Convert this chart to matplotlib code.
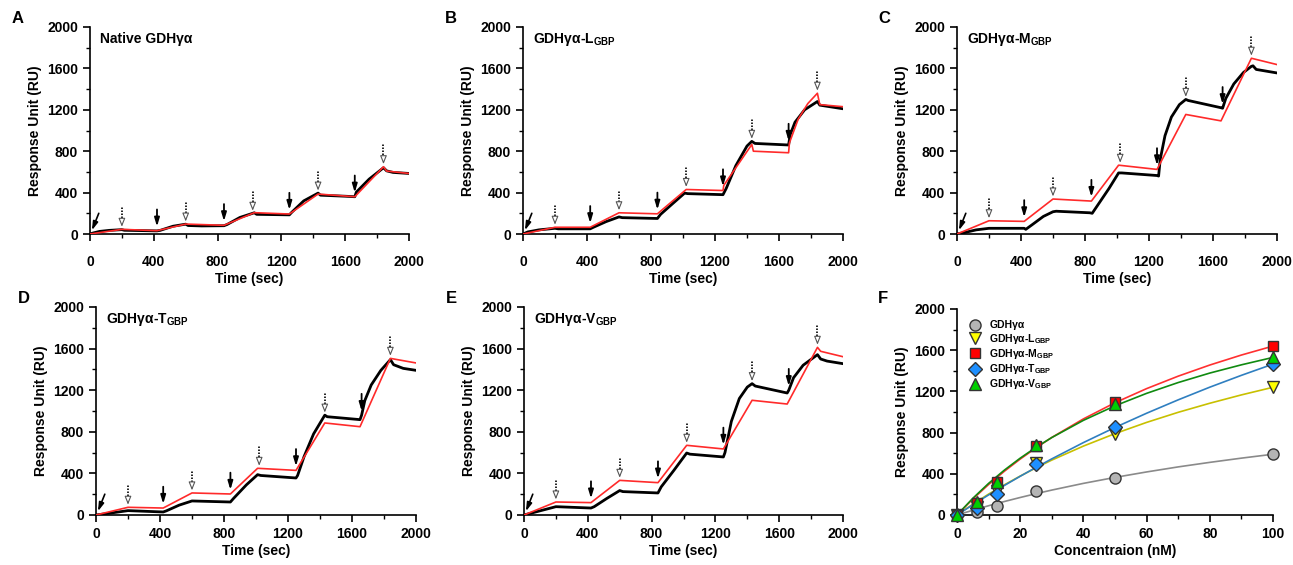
import matplotlib

matplotlib.use("Agg")
import matplotlib.pyplot as plt
import numpy as np
from matplotlib.ticker import MultipleLocator

plt.rcParams["font.family"] = ["Liberation Sans", "DejaVu Sans"]
plt.rcParams["font.weight"] = "bold"
plt.rcParams["mathtext.fontset"] = "custom"
plt.rcParams["mathtext.rm"] = "Liberation Sans"
plt.rcParams["mathtext.bf"] = "Liberation Sans:bold"

# --- sensorgrams: black = measured, red = fit ---
a_black_t = [0, 20, 60, 120, 200, 215, 420, 440, 520, 600, 615, 700, 840, 860, 940, 1030, 1045,
             1250, 1265, 1340, 1430, 1445, 1600, 1660, 1670, 1750, 1840, 1860, 1900, 2000]
a_black_y = [0, 10, 25, 35, 42, 36, 30, 35, 75, 95, 82, 78, 80, 92, 160, 205, 190,
             185, 210, 320, 395, 375, 365, 360, 405, 530, 640, 610, 595, 585]
a_red_t = [0, 200, 420, 600, 840, 1030, 1250, 1430, 1660, 1840, 1860, 2000]
a_red_y = [0, 45, 32, 96, 84, 206, 193, 386, 360, 650, 608, 585]

b_black_t = [0, 30, 100, 200, 220, 420, 440, 520, 600, 620, 840, 860, 940, 1010, 1030, 1250, 1270,
             1330, 1400, 1430, 1450, 1660, 1670, 1700, 1760, 1840, 1855, 2000]
b_black_y = [0, 20, 40, 55, 50, 50, 65, 120, 165, 158, 150, 190, 300, 395, 390, 380, 440,
             660, 850, 895, 875, 860, 960, 1080, 1200, 1280, 1245, 1210]
b_red_t = [0, 200, 420, 600, 840, 1020, 1250, 1255, 1430, 1440, 1660, 1665, 1720, 1780, 1840, 1855, 2000]
b_red_y = [0, 65, 65, 205, 195, 430, 420, 470, 865, 800, 785, 880, 1110, 1260, 1360, 1250, 1230]

c_black_t = [0, 50, 120, 200, 420, 430, 470, 540, 600, 620, 830, 845, 880, 950, 1010, 1030, 1250,
             1260, 1270, 1300, 1340, 1390, 1430, 1445, 1650, 1660, 1680, 1730, 1790, 1840, 1850,
             1870, 2000]
c_black_y = [0, 15, 40, 55, 55, 45, 90, 170, 215, 220, 205, 200, 280, 440, 590, 590, 565,
             560, 720, 950, 1130, 1250, 1300, 1290, 1220, 1215, 1310, 1450, 1560, 1620, 1625,
             1590, 1556]
c_red_t = [0, 200, 420, 600, 840, 1010, 1250, 1430, 1650, 1840, 2000]
c_red_y = [0, 128, 122, 338, 318, 665, 624, 1155, 1093, 1698, 1637]

d_black_t = [0, 50, 200, 420, 440, 520, 600, 840, 860, 940, 1010, 1030, 1250, 1260, 1300, 1360,
             1430, 1445, 1650, 1660, 1680, 1720, 1780, 1840, 1860, 1920, 2000]
d_black_y = [0, 10, 42, 29, 40, 95, 135, 125, 160, 290, 388, 380, 356, 380, 560, 780,
             960, 945, 917, 960, 1100, 1250, 1390, 1494, 1445, 1410, 1391]
d_red_t = [0, 200, 420, 600, 840, 1010, 1250, 1430, 1650, 1840, 2000]
d_red_y = [0, 74, 67, 212, 202, 449, 429, 885, 849, 1506, 1462]

e_black_t = [0, 50, 200, 420, 440, 520, 600, 620, 840, 860, 940, 1020, 1040, 1250, 1260, 1300,
             1350, 1400, 1430, 1450, 1650, 1660, 1690, 1750, 1840, 1860, 1900, 2000]
e_black_y = [0, 20, 80, 67, 80, 160, 235, 225, 212, 270, 430, 596, 585, 558, 600, 900,
             1120, 1230, 1263, 1240, 1173, 1200, 1320, 1440, 1542, 1500, 1480, 1455]
e_red_t = [0, 200, 420, 600, 840, 1020, 1250, 1430, 1650, 1840, 1860, 2000]
e_red_y = [0, 125, 119, 333, 311, 670, 635, 1103, 1067, 1612, 1574, 1522]

inject_times = [420, 840, 1250, 1660]
dissoc_times = [200, 600, 1020, 1430, 1840]

# --- binding isotherms (panel F) ---
conc = [0, 6.25, 12.5, 25, 50, 100]
ru_native = [0, 29, 91, 235, 362, 593]
ru_l = [0, 80, 235, 505, 782, 1238]
ru_m = [0, 117, 319, 671, 1101, 1638]
ru_t = [0, 72, 205, 492, 857, 1466]
ru_v = [0, 130, 319, 681, 1075, 1531]

fit_conc = [0, 5, 10, 15, 20, 25, 30, 40, 50, 60, 70, 80, 90, 100]
fit_native = [0, 46, 90, 131, 170, 207, 242, 307, 365, 418, 467, 511, 552, 590]
fit_l = [0, 105, 203, 293, 378, 458, 533, 669, 790, 899, 997, 1085, 1166, 1240]
fit_m = [0, 155, 296, 425, 543, 652, 753, 933, 1090, 1227, 1348, 1456, 1553, 1640]
fit_t = [0, 99, 195, 287, 376, 462, 545, 703, 850, 988, 1118, 1241, 1356, 1465]
fit_v = [0, 162, 307, 436, 552, 657, 752, 919, 1060, 1181, 1286, 1378, 1458, 1530]

W, H = 1293, 565


def px_axes(fig, x0, x1, ytop, ybot):
    return fig.add_axes([x0 / W, (H - ybot) / H, (x1 - x0) / W, (ybot - ytop) / H])


def style_axes(ax, xmax, xmajor, xminor, xpad):
    for side in ("top", "right"):
        ax.spines[side].set_visible(False)
    for side in ("left", "bottom"):
        ax.spines[side].set_linewidth(1.2)
    ax.set_ylim(0, 2000)
    ax.set_xlim(0, xmax)
    ax.yaxis.set_major_locator(MultipleLocator(400))
    ax.yaxis.set_minor_locator(MultipleLocator(200))
    ax.xaxis.set_major_locator(MultipleLocator(xmajor))
    ax.xaxis.set_minor_locator(MultipleLocator(xminor))
    ax.tick_params(which="major", direction="out", length=5, width=1.2, labelsize=10)
    ax.tick_params(which="minor", direction="out", length=3, width=1.0)
    ax.tick_params(axis="x", which="major", pad=xpad)
    for lab in ax.get_xticklabels() + ax.get_yticklabels():
        lab.set_fontweight("bold")
    ax.set_ylabel("Response Unit (RU)", fontsize=10, fontweight="bold")


def sensorgram(ax, bt, by, rt, ry, title, letter, top_row):
    style_axes(ax, 2000, 400, 200, 10 if top_row else 4)
    ax.plot(bt, by, color="black", lw=2.0, zorder=3)
    ax.plot(rt, ry, color="#ff2a2a", lw=1.2, zorder=4)
    ax.set_xlabel("Time (sec)", fontsize=10, fontweight="bold", labelpad=2)
    ax.text(0.03, 0.94, title, transform=ax.transAxes, fontsize=10, fontweight="bold",
            va="center", ha="left")
    ax.text(-0.245, 1.04, letter, transform=ax.transAxes, fontsize=12, fontweight="bold",
            va="center", ha="left")

    # first injection: diagonal arrow
    ax.annotate("", xy=(12, 35), xytext=(55, 200),
                arrowprops=dict(arrowstyle="-|>,head_width=0.15,head_length=0.5",
                                color="black", lw=1.2, shrinkA=0, shrinkB=0))
    for t in inject_times:
        tip = max(np.interp(t, bt, by), np.interp(t, rt, ry)) + 40
        ax.annotate("", xy=(t, tip), xytext=(t, tip + 165),
                    arrowprops=dict(arrowstyle="-|>,head_width=0.15,head_length=0.5",
                                    color="black", lw=1.3, shrinkA=0, shrinkB=0), zorder=5)
    for t in dissoc_times:
        tip = max(np.interp(t, bt, by), np.interp(t, rt, ry)) + 25
        ax.plot([t, t], [tip + 55, tip + 190], color="black", lw=1.2, ls=(0, (0.9, 0.9)), zorder=5)
        ax.annotate("", xy=(t, tip), xytext=(t, tip + 55),
                    arrowprops=dict(arrowstyle="-|>,head_width=0.2,head_length=0.5",
                                    fc="white", ec="#555555", lw=0.8, shrinkA=0, shrinkB=0),
                    zorder=5)


fig = plt.figure(figsize=(W / 100, H / 100), dpi=100)

sub = r"$_{\mathbf{GBP}}$"
ax_a = px_axes(fig, 90, 409, 27, 234)
sensorgram(ax_a, a_black_t, a_black_y, a_red_t, a_red_y, "Native GDHγα", "A", True)
ax_b = px_axes(fig, 523, 843, 27, 234)
sensorgram(ax_b, b_black_t, b_black_y, b_red_t, b_red_y, "GDHγα-L" + sub, "B", True)
ax_c = px_axes(fig, 957, 1277, 27, 234)
sensorgram(ax_c, c_black_t, c_black_y, c_red_t, c_red_y, "GDHγα-M" + sub, "C", True)
ax_d = px_axes(fig, 96, 416, 307, 515)
sensorgram(ax_d, d_black_t, d_black_y, d_red_t, d_red_y, "GDHγα-T" + sub, "D", False)
ax_e = px_axes(fig, 524, 843, 307, 515)
sensorgram(ax_e, e_black_t, e_black_y, e_red_t, e_red_y, "GDHγα-V" + sub, "E", False)

# panel F
ax_f = px_axes(fig, 957, 1273, 309, 515)
style_axes(ax_f, 100, 20, 10, 4)
ax_f.set_xlabel("Concentraion (nM)", fontsize=10, fontweight="bold", labelpad=2)
ax_f.text(-0.25, 1.05, "F", transform=ax_f.transAxes, fontsize=12, fontweight="bold",
          va="center", ha="left")

series = [
    ("GDHγα", ru_native, fit_native, "o", "#b4b4b4", "#8a8a8a", 8),
    ("GDHγα-L" + sub, ru_l, fit_l, "v", "#ffff00", "#c8c000", 8),
    ("GDHγα-M" + sub, ru_m, fit_m, "s", "#ff0000", "#ff3030", 7.5),
    ("GDHγα-T" + sub, ru_t, fit_t, "D", "#1e8fff", "#2f7fc0", 7),
    ("GDHγα-V" + sub, ru_v, fit_v, "^", "#00d000", "#108a10", 8),
]
handles = []
for label, pts, fit, marker, fc, lc, ms in series:
    ax_f.plot(fit_conc, fit, color=lc, lw=1.2, zorder=2)
    h, = ax_f.plot(conc, pts, ls="none", marker=marker, ms=ms, mfc=fc, mec="#333333",
                   mew=1.0, label=label, zorder=3, clip_on=False)
    handles.append(h)
leg = ax_f.legend(handles=handles, loc="upper left", bbox_to_anchor=(0.02, 0.975),
                  frameon=False, fontsize=7.5, handlelength=1.0, handletextpad=0.9,
                  labelspacing=0.12, borderaxespad=0.2)
for txt in leg.get_texts():
    txt.set_fontweight("bold")

fig.savefig("out.png", dpi=100)
